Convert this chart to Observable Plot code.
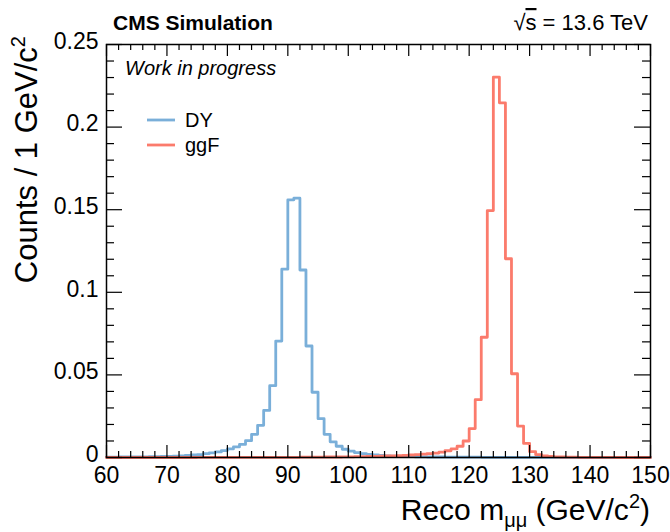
<!DOCTYPE html>
<html><head><meta charset="utf-8">
<script src="https://cdn.jsdelivr.net/npm/d3@7"></script>
<script src="https://cdn.jsdelivr.net/npm/@observablehq/plot@0.6"></script>
<style>body{margin:0;background:#fff} svg{display:block}</style>
</head><body><div id="chart"></div>
<script>
// bin low edges (1 GeV bins, 60..150)
const binLow = d3.range(60, 150);
const binHigh = 150;
const dyValues = [
  0.0002,0.0002,0.0003,0.0003,0.0003,0.0004,0.0004,0.0005,0.0005,0.0006,
  0.0007,0.0008,0.0010,0.0012,0.0015,0.0018,0.0023,0.0028,0.0034,0.0042,
  0.0052,0.0064,0.0079,0.0102,0.0140,0.0195,0.0285,0.0435,0.0705,0.1140,
  0.1560,0.1570,0.1135,0.0675,0.0395,0.0235,0.0140,0.0095,0.0068,0.0050,
  0.0038,0.0030,0.0024,0.0019,0.0015,0.0012,0.0010,0.0008,0.0007,0.0006,
  0.0005,0.0004,0.0004,0.0003,0.0003,0.0003,0.0002,0.0002,0.0002,0.0002,
  0.0002,0.0002,0.0001,0.0001,0.0001,0.0001,0.0001,0.0001,0.0001,0.0001,
  0.0001,0.0001,0.0001,0.0001,0.0001,0.0001,0.0001,0.0001,0.0000,0.0000,
  0.0000,0.0000,0.0000,0.0000,0.0000,0.0000,0.0000,0.0000,0.0000,0.0000
];
const ggfValues = [
  0.0000,0.0000,0.0000,0.0000,0.0000,0.0000,0.0000,0.0000,0.0000,0.0000,
  0.0000,0.0000,0.0000,0.0000,0.0000,0.0001,0.0001,0.0001,0.0001,0.0001,
  0.0001,0.0001,0.0001,0.0001,0.0001,0.0001,0.0001,0.0001,0.0001,0.0001,
  0.0001,0.0001,0.0002,0.0002,0.0002,0.0002,0.0003,0.0003,0.0003,0.0004,
  0.0004,0.0005,0.0005,0.0006,0.0007,0.0008,0.0009,0.0010,0.0011,0.0013,
  0.0015,0.0017,0.0020,0.0023,0.0027,0.0033,0.0041,0.0052,0.0068,0.0100,
  0.0175,0.0350,0.0728,0.1495,0.2302,0.2147,0.1203,0.0507,0.0190,0.0085,
  0.0035,0.0017,0.0009,0.0006,0.0004,0.0003,0.0002,0.0002,0.0001,0.0001,
  0.0001,0.0001,0.0001,0.0001,0.0000,0.0000,0.0000,0.0000,0.0000,0.0000
];
const seriesNames = ["DY", "ggF"];
const seriesColors = ["#7aafd9", "#fb7b6c"];
const xMajor = [60,70,80,90,100,110,120,130,140,150];
const xMinor = d3.range(60, 151, 2).filter(v => v % 10 !== 0);
const yMajor = [0, 0.05, 0.1, 0.15, 0.2, 0.25];
const yMinor = d3.range(0, 26).map(i => i / 100).filter((v, i) => i % 5 !== 0);

function steps(vals, name) {
  const rows = binLow.map((x, i) => ({x, y: vals[i], s: name}));
  rows.push({x: binHigh, y: vals[vals.length - 1], s: name});
  return rows;
}
const dyData = steps(dyValues, "DY");
const ggfData = steps(ggfValues, "ggF");

const W = 670, H = 532, mL = 106, mR = 20, mT = 44, mB = 75;
const pw = W - mL - mR, ph = H - mT - mB;
const font = "'Liberation Sans', Arial, Helvetica, sans-serif";

const chart = Plot.plot({
  width: W, height: H,
  marginLeft: mL, marginRight: mR, marginTop: mT, marginBottom: mB,
  style: {fontFamily: font, background: "#fff", color: "#000"},
  x: {domain: [60, 150]},
  y: {domain: [0, 0.25]},
  color: {domain: seriesNames, range: seriesColors},
  marks: [
    Plot.line(dyData, {x: "x", y: "y", stroke: "s", curve: "step-after", strokeWidth: 2.8}),
    Plot.line(ggfData, {x: "x", y: "y", stroke: "s", curve: "step-after", strokeWidth: 2.8}),
    Plot.tickX(xMajor, {x: d => d, insetTop: ph - 12, stroke: "#000", strokeWidth: 1.2}),
    Plot.tickX(xMinor, {x: d => d, insetTop: ph - 6, stroke: "#000", strokeWidth: 1.2}),
    Plot.tickX(xMajor, {x: d => d, insetBottom: ph - 12, stroke: "#000", strokeWidth: 1.2}),
    Plot.tickX(xMinor, {x: d => d, insetBottom: ph - 6, stroke: "#000", strokeWidth: 1.2}),
    Plot.tickY(yMajor, {y: d => d, insetRight: pw - 16, stroke: "#000", strokeWidth: 1.2}),
    Plot.tickY(yMinor, {y: d => d, insetRight: pw - 8, stroke: "#000", strokeWidth: 1.2}),
    Plot.tickY(yMajor, {y: d => d, insetLeft: pw - 16, stroke: "#000", strokeWidth: 1.2}),
    Plot.tickY(yMinor, {y: d => d, insetLeft: pw - 8, stroke: "#000", strokeWidth: 1.2}),
    Plot.frame({stroke: "#000", strokeWidth: 1.5}),
    Plot.axisX({ticks: xMajor, tickSize: 0, tickPadding: 9, fontSize: 23, label: null, tickFormat: d => String(d)}),
    Plot.axisY({ticks: yMajor, tickSize: 0, tickPadding: 8, fontSize: 23, label: null, tickFormat: d => String(d), dy: -3})
  ]
});

const svg = d3.select(chart);
svg.attr("font-family", font);
// header
svg.append("text").attr("x", 113).attr("y", 30).attr("font-size", 21).attr("font-weight", "bold")
  .attr("text-anchor", "start").text("CMS Simulation");
const rs = svg.append("text").attr("x", 648).attr("y", 30).attr("font-size", 22).attr("text-anchor", "end");
rs.append("tspan").text("√");
rs.append("tspan").style("text-decoration", "overline").text("s");
rs.append("tspan").text(" = 13.6 TeV");
svg.append("text").attr("x", 125).attr("y", 75).attr("font-size", 20).attr("font-style", "italic")
  .attr("text-anchor", "start").text("Work in progress");
// legend
seriesNames.forEach((n, i) => {
  const y = 120 + i * 25;
  svg.append("line").attr("x1", 147).attr("x2", 175).attr("y1", y).attr("y2", y)
    .attr("stroke", seriesColors[i]).attr("stroke-width", 2.8);
  svg.append("text").attr("x", 185).attr("y", y + 7).attr("font-size", 20)
    .attr("text-anchor", "start").text(n);
});
// y title
const yt = svg.append("text").attr("transform", "translate(37,36) rotate(-90)")
  .attr("text-anchor", "end").attr("font-size", 31);
yt.append("tspan").text("Counts / 1 GeV/c");
yt.append("tspan").attr("dy", -12).attr("font-size", 20).text("2");
// x title
const xt = svg.append("text").attr("x", 650).attr("y", 520).attr("text-anchor", "end").attr("font-size", 30);
xt.append("tspan").text("Reco m");
xt.append("tspan").attr("dy", 7).attr("font-size", 20).text("μμ");
xt.append("tspan").attr("dy", -7).text(" (GeV/c");
xt.append("tspan").attr("dy", -12).attr("font-size", 20).text("2");
xt.append("tspan").attr("dy", 12).text(")");

document.getElementById("chart").appendChild(chart);
</script>
</body></html>
